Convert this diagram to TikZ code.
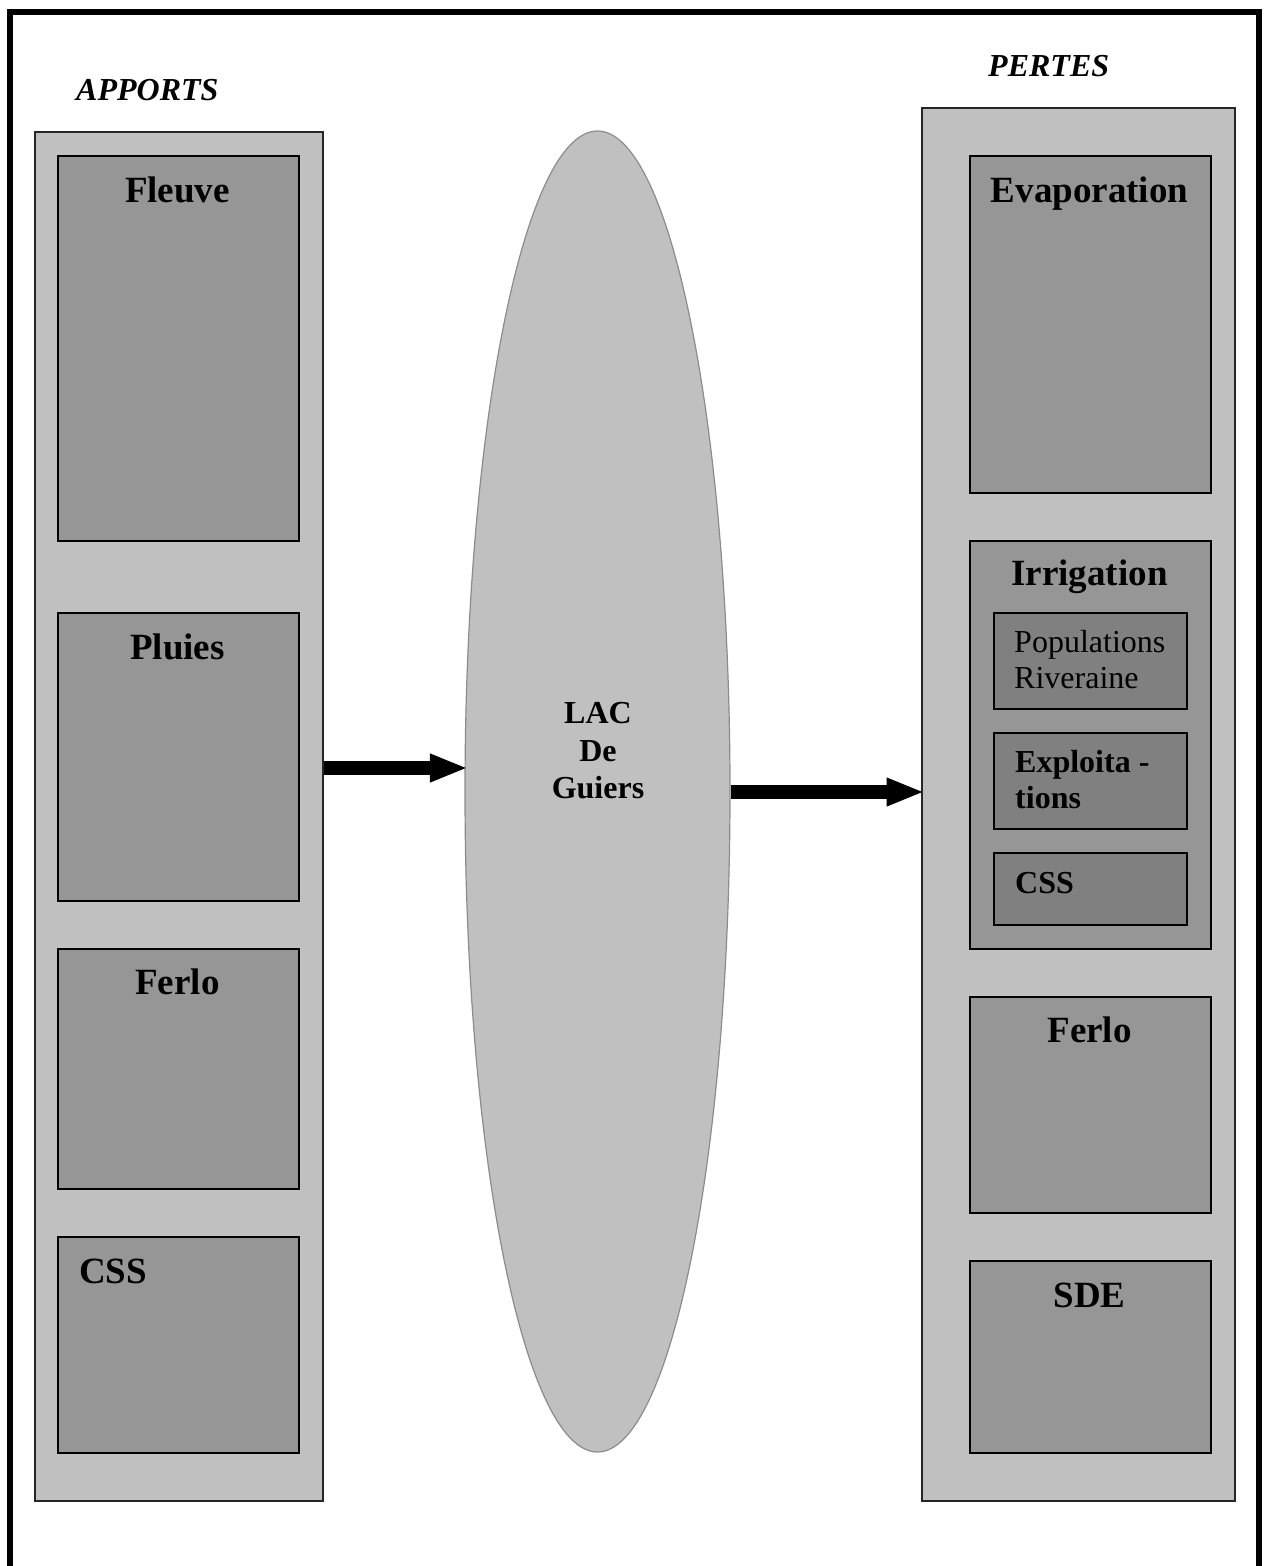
\documentclass[tikz,border=0pt]{standalone}
\usepackage{fontspec}
\setmainfont{Liberation Serif}
\usetikzlibrary{shapes.geometric,arrows.meta}
\definecolor{colfill}{HTML}{C0C0C0}
\definecolor{boxfill}{HTML}{969696}
\definecolor{subfill}{HTML}{808080}
\definecolor{lakeline}{HTML}{8C8C8C}
\begin{document}
\begin{tikzpicture}[x=1pt,y=-1pt,
  column/.style={draw=black!85,line width=1.8pt,fill=colfill,rectangle,anchor=north west,inner sep=0pt},
  box/.style={draw=black,line width=1.8pt,fill=boxfill,rectangle,anchor=north west,inner sep=0pt},
  subbox/.style={draw=black,line width=1.8pt,fill=subfill,rectangle,anchor=north west,inner sep=0pt},
  big/.style={font=\fontsize{37}{44}\selectfont\bfseries,anchor=base,inner sep=0pt},
  small/.style={font=\fontsize{32}{36}\selectfont,anchor=base west,inner sep=0pt},
  head/.style={font=\fontsize{32}{36}\selectfont\bfseries\itshape,anchor=base west,inner sep=0pt},
  flow/.style={line width=14pt,-{Triangle[length=38pt,width=26pt]},shorten >=-3.5pt}]
\useasboundingbox (0,0) rectangle (1268,1566);
\fill[white] (0,0) rectangle (1268,1566);

% frame, open at the bottom
\draw[line width=6pt] (10,1570) -- (10,12) -- (1258.5,12) -- (1258.5,1570);

% inputs column
\node[column,minimum width=288pt,minimum height=1369pt] (apports) at (34,131) {};
\node[box,minimum width=241pt,minimum height=385pt] (fleuve) at (57,155) {};
\node[box,minimum width=241pt,minimum height=288pt] (pluies) at (57,612) {};
\node[box,minimum width=241pt,minimum height=240pt] (ferloA) at (57,948) {};
\node[box,minimum width=241pt,minimum height=216pt] (cssA) at (57,1236) {};

% losses column
\node[column,minimum width=313pt,minimum height=1393pt] (pertes) at (921,107) {};
\node[box,minimum width=241pt,minimum height=337pt] (evap) at (969,155) {};
\node[box,minimum width=241pt,minimum height=408pt] (irrig) at (969,540) {};
\node[subbox,minimum width=193pt,minimum height=96pt] (pop) at (993,612) {};
\node[subbox,minimum width=193pt,minimum height=96pt] (expl) at (993,732) {};
\node[subbox,minimum width=193pt,minimum height=72pt] (cssB) at (993,852) {};
\node[box,minimum width=241pt,minimum height=216pt] (ferloB) at (969,996) {};
\node[box,minimum width=241pt,minimum height=192pt] (sde) at (969,1260) {};

% the lake
\node[ellipse,draw=lakeline,line width=1.2pt,fill=colfill,minimum width=265pt,minimum height=1321pt,inner sep=0pt] (lac) at (597.5,791.5) {};

% headings
\node[head] (tA) at (76,100) {APPORTS};
\node[head] (tP) at (988,76) {PERTES};

% box labels
\node[big] (lFleuve) at (177.5,202) {Fleuve};
\node[big] (lPluies) at (177.5,659) {Pluies};
\node[big] (lFerloA) at (177.5,994) {Ferlo};
\node[big,anchor=base west] (lCssA) at (79,1283) {CSS};
\node[big] (lEvap) at (1089.5,202) {Evaporation};
\node[big] (lIrrig) at (1089.5,585) {Irrigation};
\node[small] (lPop1) at (1014,652) {Populations};
\node[small] (lPop2) at (1014,688) {Riveraine};
\node[small,font=\fontsize{32}{36}\selectfont\bfseries] (lExp1) at (1015,772) {Exploita -};
\node[small,font=\fontsize{32}{36}\selectfont\bfseries] (lExp2) at (1015,808) {tions};
\node[small,font=\fontsize{32}{36}\selectfont\bfseries] (lCssB) at (1015,893) {CSS};
\node[big] (lFerloB) at (1089.5,1042) {Ferlo};
\node[big] (lSde) at (1089.5,1307) {SDE};
\node[big,font=\fontsize{32}{36}\selectfont\bfseries] (lLac1) at (598,723) {LAC};
\node[big,font=\fontsize{32}{36}\selectfont\bfseries] (lLac2) at (598,761) {De};
\node[big,font=\fontsize{32}{36}\selectfont\bfseries] (lLac3) at (598,798) {Guiers};

% flows
\draw[flow] (apports.east |- 0,768) -- (lac.west |- 0,768);
\draw[flow] (lac.east |- 0,792) -- (pertes.west |- 0,792);
\end{tikzpicture}
\end{document}
